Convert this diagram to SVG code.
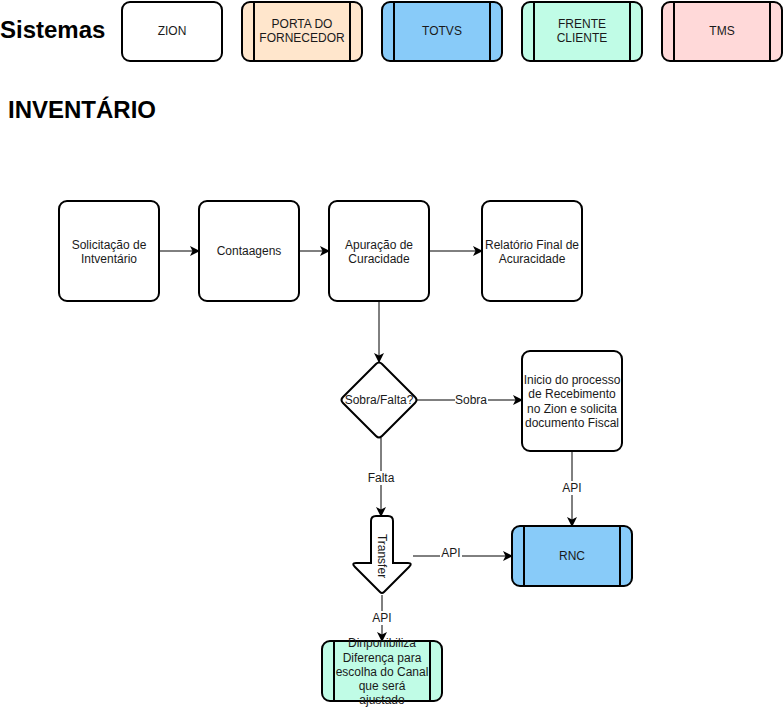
<svg xmlns="http://www.w3.org/2000/svg" width="784" height="707" viewBox="0 0 784 707">
<defs>
<style>
text{font-family:"Liberation Sans",Arial,Helvetica,sans-serif;font-size:12px;fill:#1a1a1a;text-anchor:middle}
.title{font-size:24px;font-weight:bold;text-anchor:start;fill:#000}
.box{stroke:#000;stroke-width:2}
.in{stroke:#000;stroke-width:2;fill:none}
.edge{stroke:#000;stroke-width:1;fill:none}
.lbl{fill:#fff}
</style>
<marker id="arr" viewBox="0 0 10 10" refX="9" refY="5" markerWidth="10" markerHeight="10" markerUnits="userSpaceOnUse" orient="auto">
<path d="M0,0 L10,5 L0,10 L2.5,5 Z" fill="#000"/>
</marker>
</defs>
<rect width="784" height="707" fill="#fff"/>

<text class="title" x="0" y="38">Sistemas</text>
<text class="title" x="8" y="118">INVENTÁRIO</text>

<g id="legend-zion">
<rect class="box" x="122" y="2" width="100" height="59" rx="8" fill="#fff"/>
<text x="172" y="35">ZION</text>
</g>
<g id="legend-porta">
<rect class="box" x="242" y="2" width="120" height="59" rx="8" fill="#ffe6cc"/>
<line class="in" x1="254" y1="2" x2="254" y2="61"/><line class="in" x1="350" y1="2" x2="350" y2="61"/>
<text x="302" y="28">PORTA DO</text><text x="302" y="42">FORNECEDOR</text>
</g>
<g id="legend-totvs">
<rect class="box" x="382" y="2" width="120" height="59" rx="8" fill="#88cbf9"/>
<line class="in" x1="394" y1="2" x2="394" y2="61"/><line class="in" x1="490" y1="2" x2="490" y2="61"/>
<text x="442" y="35">TOTVS</text>
</g>
<g id="legend-frente">
<rect class="box" x="522" y="2" width="120" height="59" rx="8" fill="#c0fce6"/>
<line class="in" x1="534" y1="2" x2="534" y2="61"/><line class="in" x1="630" y1="2" x2="630" y2="61"/>
<text x="582" y="28">FRENTE</text><text x="582" y="42">CLIENTE</text>
</g>
<g id="legend-tms">
<rect class="box" x="662" y="2" width="120" height="59" rx="8" fill="#ffd9d9"/>
<line class="in" x1="674" y1="2" x2="674" y2="61"/><line class="in" x1="770" y1="2" x2="770" y2="61"/>
<text x="722" y="35">TMS</text>
</g>

<g id="connectors">
<line class="edge" x1="159" y1="251" x2="199" y2="251" marker-end="url(#arr)"/>
<line class="edge" x1="299" y1="251" x2="329" y2="251" marker-end="url(#arr)"/>
<line class="edge" x1="429" y1="251" x2="482" y2="251" marker-end="url(#arr)"/>
<line class="edge" x1="379" y1="301" x2="379" y2="362" marker-end="url(#arr)"/>
<line class="edge" x1="417" y1="400" x2="522" y2="400" marker-end="url(#arr)"/>
<rect class="lbl" x="455" y="393" width="33" height="14"/>
<text x="471" y="404">Sobra</text>
<line class="edge" x1="381" y1="438" x2="381" y2="516" marker-end="url(#arr)"/>
<rect class="lbl" x="366" y="471" width="30" height="14"/>
<text x="381" y="482">Falta</text>
<line class="edge" x1="572" y1="451" x2="572" y2="526" marker-end="url(#arr)"/>
<rect class="lbl" x="561" y="481" width="22" height="14"/>
<text x="572" y="492">API</text>
<line class="edge" x1="413" y1="556" x2="512" y2="556" marker-end="url(#arr)"/>
<rect class="lbl" x="440" y="546" width="22" height="13"/>
<text x="451" y="557">API</text>
<line class="edge" x1="382" y1="595" x2="382" y2="641" marker-end="url(#arr)"/>
<rect class="lbl" x="371" y="611" width="22" height="14"/>
<text x="382" y="622">API</text>
</g>

<g id="solicitacao">
<rect class="box" x="59" y="201" width="100" height="100" rx="8" fill="#fff"/>
<text x="109" y="249">Solicitação de</text><text x="109" y="263">Intventário</text>
</g>
<g id="contaagens">
<rect class="box" x="199" y="201" width="100" height="100" rx="8" fill="#fff"/>
<text x="249" y="255">Contaagens</text>
</g>
<g id="apuracao">
<rect class="box" x="329" y="201" width="100" height="100" rx="8" fill="#fff"/>
<text x="379" y="249">Apuração de</text><text x="379" y="263">Curacidade</text>
</g>
<g id="relatorio">
<rect class="box" x="482" y="201" width="100" height="100" rx="8" fill="#fff"/>
<text x="532" y="249">Relatório Final de</text><text x="532" y="263">Acuracidade</text>
</g>
<g id="sobra-falta">
<path class="box" d="M376,364 Q379,361 382,364 L415,397 Q418,400 415,403 L382,436 Q379,439 376,436 L343,403 Q340,400 343,397 Z" fill="#fff"/>
<text x="379" y="404">Sobra/Falta?</text>
</g>
<g id="inicio">
<rect class="box" x="522" y="351" width="100" height="100" rx="8" fill="#fff"/>
<text x="572" y="384">Inicio do processo</text>
<text x="572" y="398">de Recebimento</text>
<text x="572" y="413">no Zion e solicita</text>
<text x="572" y="427">documento Fiscal</text>
</g>
<g id="transfer">
<path class="box" d="M376,516 H388 Q393,516 393,521 V563 H408 Q413,563 409,567 L384,592 Q382,594 380,592 L355,567 Q351,563 356,563 H371 V521 Q371,516 376,516 Z" fill="#fff"/>
<text x="0" y="0" transform="translate(378,556) rotate(90)">Transfer</text>
</g>
<g id="rnc">
<rect class="box" x="512" y="526" width="120" height="60" rx="8" fill="#88cbf9"/>
<line class="in" x1="524" y1="526" x2="524" y2="586"/><line class="in" x1="620" y1="526" x2="620" y2="586"/>
<text x="572" y="560">RNC</text>
</g>
<g id="disponibiliza">
<rect class="box" x="322" y="641" width="120" height="60" rx="8" fill="#c0fce6"/>
<line class="in" x1="334" y1="641" x2="334" y2="701"/><line class="in" x1="430" y1="641" x2="430" y2="701"/>
<text x="382" y="647">Dinponibiliza</text>
<text x="382" y="662">Diferença para</text>
<text x="382" y="676">escolha do Canal</text>
<text x="382" y="690">que será</text>
<text x="382" y="704">ajustado</text>
</g>
</svg>
